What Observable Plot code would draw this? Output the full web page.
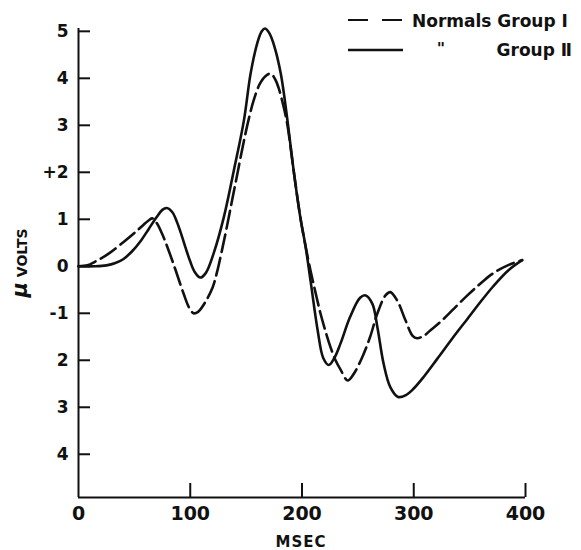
<!DOCTYPE html>
<html><head><meta charset="utf-8">
<script src="https://cdn.jsdelivr.net/npm/d3@7"></script>
<script src="https://cdn.jsdelivr.net/npm/@observablehq/plot@0.6"></script>
<style>
body{margin:0;background:#fff;}
#chart{width:581px;height:550px;}
</style></head><body><div id="chart"></div>
<script>
// Group I (dashed) — time in msec, amplitude in microvolts
const group1Ms = [0,8,15,27,42,52,58,63,66,70,75,80,87,94,99,103,107,113,120,124,128,132,137,142,147,152,157,162,167,172,176,179,183.5,187,192.5,198.5,203,207.6,212,216.5,221,225.5,230,234.5,240.8,246,254,261,267.5,274.7,279,285,292.6,299,303,309,315,324,336,348,360,371,385,397];
const group1Uv = [0,0.02,0.1,0.27,0.55,0.75,0.88,0.98,1.02,0.92,0.68,0.38,-0.09,-0.58,-0.88,-1.0,-0.97,-0.78,-0.45,-0.12,0.3,0.75,1.35,1.95,2.55,3.1,3.55,3.87,4.04,4.1,3.98,3.8,3.4,3.0,2.04,1.04,0.45,-0.09,-0.55,-1.0,-1.38,-1.72,-2.0,-2.2,-2.43,-2.3,-1.93,-1.5,-1.0,-0.62,-0.55,-0.72,-1.15,-1.48,-1.53,-1.48,-1.36,-1.18,-0.9,-0.62,-0.36,-0.15,0.03,0.13];
// Group II (solid)
const group2Ms = [0,15,25,33,40,48,56,63,70,75,79,84,88,92,96,100,104,109,114,121,130,139,148,154,160,164,167,171,175,181,187,192.5,198.5,203,207.6,214,219,224,229,234.5,243,252,257,263,267.5,273,279,286,293,300,309,321,335,348,360,371,385,397];
const group2Uv = [0,0,0.02,0.07,0.15,0.32,0.55,0.8,1.05,1.2,1.24,1.15,0.95,0.68,0.38,0.1,-0.12,-0.24,-0.14,0.28,1.04,2.04,3.1,4.1,4.75,5.0,5.06,4.95,4.7,4.1,3.1,2.04,1.04,0.45,-0.3,-1.36,-1.95,-2.1,-1.95,-1.64,-1.08,-0.67,-0.62,-0.8,-1.3,-2.07,-2.57,-2.78,-2.74,-2.6,-2.35,-1.97,-1.52,-1.12,-0.75,-0.43,-0.08,0.13];

const xTicks = [0,100,200,300,400];
const yTicks = [5,4,3,2,1,0,-1,-2,-3,-4];
const yTickLabels = ["5","4","3","+2","1","0","-1","2","3","4"];
const xTitle = "MSEC";
const yTitleMu = "\u03BC";
const yTitle = "VOLTS";
const legendRow1 = "Normals Group \u2160";
const legendDitto = "\"";
const legendRow2 = "Group \u2161";

const W = 581, H = 550, mL = 78, mR = 56, mT = 28, mB = 53;
const plotW = W - mL - mR, plotH = H - mT - mB;
const yDomain = [-4.92, 5.06];
const ink = "#111";

const g1 = group1Ms.map((x, i) => ({ms: x, uv: group1Uv[i]}));
const g2 = group2Ms.map((x, i) => ({ms: x, uv: group2Uv[i]}));

const chart = Plot.plot({
  width: W, height: H,
  marginLeft: mL, marginRight: mR, marginTop: mT, marginBottom: mB,
  style: {fontFamily: "DejaVu Sans", fontWeight: "bold", fontSize: "17px", color: ink, background: "#fff"},
  x: {domain: [0, 400]},
  y: {domain: yDomain},
  marks: [
    Plot.axisY(yTicks, {tickSize: 0, tickPadding: 10, label: null, fontSize: 17,
      tickFormat: d => yTickLabels[yTicks.indexOf(d)]}),
    Plot.axisX(xTicks, {tickSize: 0, tickPadding: 9, label: null, fontSize: 19, tickFormat: d => String(d)}),
    Plot.ruleX([0], {stroke: ink, strokeWidth: 2}),
    Plot.ruleY([yDomain[0]], {stroke: ink, strokeWidth: 2}),
    Plot.ruleY(yTicks, {stroke: ink, strokeWidth: 2, insetRight: plotW - 12}),
    Plot.ruleX(xTicks.slice(1), {stroke: ink, strokeWidth: 2, insetTop: plotH - 14}),
    Plot.line(g2, {x: "ms", y: "uv", curve: "catmull-rom", stroke: ink, strokeWidth: 2.6}),
    Plot.line(g1, {x: "ms", y: "uv", curve: "catmull-rom", stroke: ink, strokeWidth: 2.6, strokeDasharray: "18,6"})
  ]
});
document.getElementById("chart").appendChild(chart);

const svg = d3.select(chart);
// axis titles
svg.append("text").attr("x", 301).attr("y", 547).attr("text-anchor", "middle")
  .attr("font-size", 15).attr("letter-spacing", 1).attr("fill", ink).text(xTitle);
const yt = svg.append("text").attr("transform", "translate(27,263) rotate(-90)")
  .attr("text-anchor", "middle").attr("fill", ink);
yt.append("tspan").attr("font-size", 21).attr("font-style", "italic").text(yTitleMu);
yt.append("tspan").attr("font-size", 14).attr("dx", 5).text(yTitle);

// legend
const lg = svg.append("g").attr("fill", ink).attr("text-anchor", "start");
lg.append("line").attr("x1", 348).attr("x2", 402).attr("y1", 20).attr("y2", 20)
  .attr("stroke", ink).attr("stroke-width", 2.2).attr("stroke-dasharray", "20,14");
lg.append("text").attr("x", 412).attr("y", 27).attr("font-size", 17).text(legendRow1);
lg.append("line").attr("x1", 348).attr("x2", 403).attr("y1", 50).attr("y2", 50)
  .attr("stroke", ink).attr("stroke-width", 2.6);
lg.append("text").attr("x", 441).attr("y", 54).attr("font-size", 16).attr("text-anchor", "middle").text(legendDitto);
lg.append("text").attr("x", 572).attr("y", 56).attr("font-size", 17).attr("text-anchor", "end").text(legendRow2);
</script>
</body></html>
